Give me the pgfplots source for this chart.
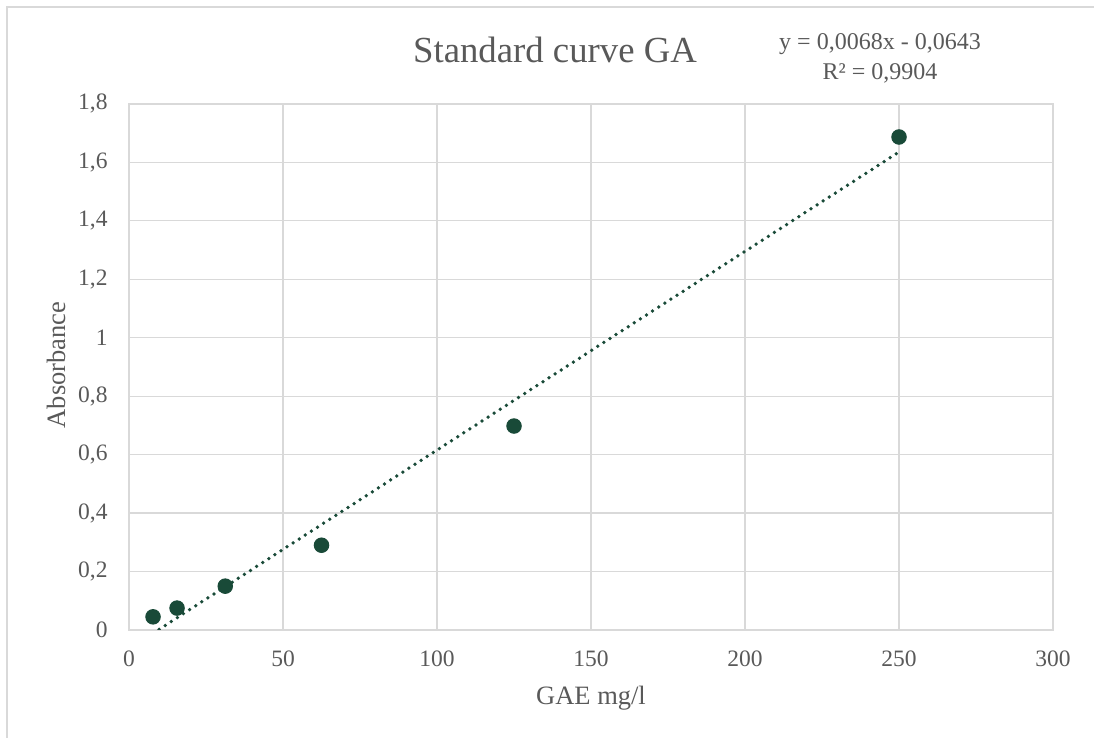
\documentclass[border=0pt]{standalone}
\usepackage{pgfplots}
\pgfplotsset{compat=1.18}
\usepackage{fontspec}
\setmainfont{Liberation Serif}
\definecolor{txt}{HTML}{595959}
\definecolor{grd}{HTML}{D9D9D9}
\definecolor{pt}{HTML}{194A38}
\begin{document}
\begin{tikzpicture}[x=0.4pt,y=0.4pt]
\path[use as bounding box] (0,0) rectangle (1094,738);
\draw[grd, line width=0.5pt] (7,0) -- (7,731) -- (1094,731);
\begin{axis}[
  at={(51.6pt,43.2pt)}, anchor=south west,
  scale only axis, width=369.6pt, height=210.4pt,
  xmin=0, xmax=300, ymin=0, ymax=1.8,
  xtick={0,50,...,300}, ytick={0,0.2,...,1.8},
  grid=major, major grid style={grd, line width=0.5pt},
  axis line style={grd, line width=0.5pt},
  tick style={draw=none},
  /pgf/number format/assume math mode=true,
  /pgf/number format/use comma,
  /pgf/number format/fixed,
  /pgf/number format/precision=1,
  xticklabel style={font=\fontsize{9.4}{11}\selectfont, text=txt, anchor=base, inner sep=0pt, yshift=-14.8pt},
  yticklabel style={font=\fontsize{9.4}{11}\selectfont, text=txt, anchor=east, inner sep=0pt, xshift=-8.4pt},
  clip=true,
]
\addplot[pt, line width=1.5pt, line cap=round, dash pattern=on 0pt off 2.9pt] coordinates {(7.8,-0.0113) (250,1.6357)};
\addplot[only marks, mark=*, mark size=2.9pt, mark options={fill=pt, draw=pt}] coordinates {
(7.8,0.045) (15.6,0.075) (31.25,0.15) (62.5,0.29) (125,0.698) (250,1.687)};
\end{axis}
\node[text=txt, font=\fontsize{14.7}{17}\selectfont, anchor=base] at (555,738-63) {Standard curve GA};
\node[text=txt, font=\fontsize{9.6}{11}\selectfont, anchor=base] at (880,738-50) {y = 0,0068x - 0,0643};
\node[text=txt, font=\fontsize{9.6}{11}\selectfont, anchor=base] at (880,738-80) {R² = 0,9904};
\node[text=txt, font=\fontsize{10.6}{12}\selectfont, anchor=base, rotate=90] at (65,373) {Absorbance};
\node[text=txt, font=\fontsize{10.6}{12}\selectfont, anchor=base] at (591,738-705) {GAE mg/l};
\end{tikzpicture}
\end{document}
